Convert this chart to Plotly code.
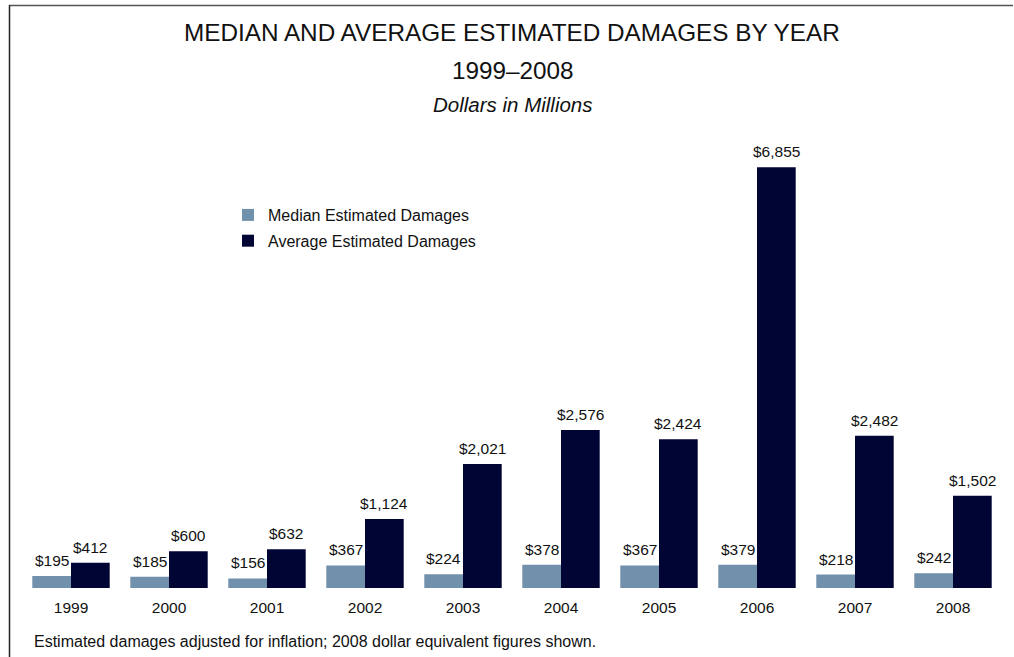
import plotly.graph_objects as go

years = ["1999", "2000", "2001", "2002", "2003", "2004", "2005", "2006", "2007", "2008"]
median_damages = [195, 185, 156, 367, 224, 378, 367, 379, 218, 242]
average_damages = [412, 600, 632, 1124, 2021, 2576, 2424, 6855, 2482, 1502]

W, H = 1014, 657
ML, MR, MT, MB = 22, 12, 140, 69
BARGAP = 0.21

MEDIAN_COLOR = "#7190ab"
AVERAGE_COLOR = "#000533"
FONT = "Liberation Sans, Arial, sans-serif"
TITLE_FONT = "Liberation Sans Narrow, Arial Narrow, Liberation Sans, sans-serif"


def money(v):
    return "${:,}".format(v)


fig = go.Figure()
fig.add_trace(go.Bar(
    x=years, y=median_damages, name="Median Estimated Damages",
    legendgroup="median",
    marker=dict(color=MEDIAN_COLOR, line=dict(width=0)),
))
fig.add_trace(go.Bar(
    x=years, y=average_damages, name="Average Estimated Damages",
    legendgroup="average",
    marker=dict(color=AVERAGE_COLOR, line=dict(width=0)),
))

pw = W - ML - MR
ph = H - MT - MB


def px_x(x):
    return (x - ML) / pw


def px_y(y):
    return (H - MB - y) / ph


# Value labels above each bar; horizontal offset is half a bar width
half_bar = pw / len(years) * (1 - BARGAP) / 4
for series, sign in ((median_damages, -1), (average_damages, 1)):
    for i, v in enumerate(series):
        fig.add_annotation(
            x=i, y=v, xref="x", yref="y", text=money(v),
            xshift=sign * half_bar, yshift=5,
            xanchor="center", yanchor="bottom", showarrow=False,
            font=dict(family=FONT, size=15.5, color="#111111"),
        )

fig.update_layout(
    width=W, height=H,
    margin=dict(l=ML, r=MR, t=MT, b=MB),
    paper_bgcolor="white", plot_bgcolor="white",
    barmode="group", bargap=BARGAP, bargroupgap=0,
    showlegend=True,
    legend=dict(
        x=px_x(228), y=px_y(198), xanchor="left", yanchor="top",
        font=dict(family=FONT, size=16, color="#111111"),
        bgcolor="rgba(0,0,0,0)", itemwidth=30, tracegroupgap=2,
        traceorder="grouped",
    ),
    xaxis=dict(
        type="category", range=[-0.5, len(years) - 0.5],
        showline=False, showgrid=False, zeroline=False,
        ticks="outside", ticklen=5, tickcolor="rgba(0,0,0,0)",
        tickfont=dict(family=FONT, size=15.5, color="#111111"),
    ),
    yaxis=dict(
        range=[0, 7300], visible=False, showgrid=False, zeroline=False,
    ),
    font=dict(family=FONT),
)

# Title block
fig.add_annotation(
    text="MEDIAN AND AVERAGE ESTIMATED DAMAGES BY YEAR",
    xref="paper", yref="paper", x=px_x(512), y=px_y(33),
    xanchor="center", yanchor="middle", showarrow=False,
    font=dict(family=TITLE_FONT, size=24.3, color="#111111"),
)
fig.add_annotation(
    text="1999\u20132008",
    xref="paper", yref="paper", x=px_x(513), y=px_y(71),
    xanchor="center", yanchor="middle", showarrow=False,
    font=dict(family=TITLE_FONT, size=24.3, color="#111111"),
)
fig.add_annotation(
    text="<i>Dollars in Millions</i>",
    xref="paper", yref="paper", x=px_x(513), y=px_y(104),
    xanchor="center", yanchor="middle", showarrow=False,
    font=dict(family=FONT, size=20.5, color="#111111"),
)
# Footnote
fig.add_annotation(
    text="Estimated damages adjusted for inflation; 2008 dollar equivalent figures shown.",
    xref="paper", yref="paper", x=px_x(32), y=px_y(641),
    xanchor="left", yanchor="middle", showarrow=False,
    font=dict(family=FONT, size=16, color="#111111"),
)

# Frame lines along the top and left edge
fig.add_shape(type="line", xref="paper", yref="paper",
              x0=px_x(9), x1=px_x(1013), y0=px_y(5.5), y1=px_y(5.5),
              line=dict(color="#555555", width=1.5))
fig.add_shape(type="line", xref="paper", yref="paper",
              x0=px_x(9.5), x1=px_x(9.5), y0=px_y(5), y1=px_y(660),
              line=dict(color="#222222", width=1.5))

fig.write_html("out.html")
